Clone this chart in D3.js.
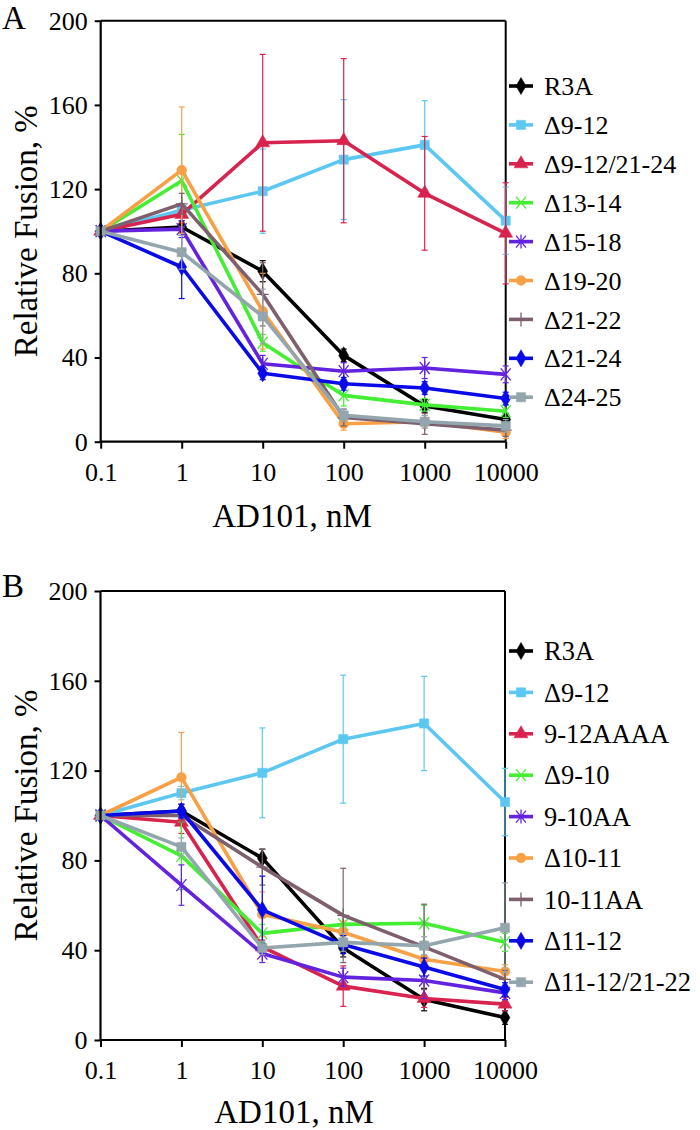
<!DOCTYPE html>
<html>
<head>
<meta charset="utf-8">
<script src="https://cdn.jsdelivr.net/npm/d3@7"></script>
<style>
  html, body { margin: 0; padding: 0; background: #fff; }
  svg { display: block; }
  text { font-family: "Liberation Serif", "Times New Roman", Times, serif; fill: #000; }
</style>
</head>
<body>
<svg id="chart" width="700" height="1130"></svg>
<script>
// ---------------- DATA ----------------
const concentrations = [0.1, 1, 10, 100, 1000, 10000];
const xTickLabels = ["0.1", "1", "10", "100", "1000", "10000"];
const yTicks = [0, 40, 80, 120, 160, 200];

const seriesA = ["R3A", "Δ9-12", "Δ9-12/21-24", "Δ13-14", "Δ15-18", "Δ19-20", "Δ21-22", "Δ21-24", "Δ24-25"];
const valuesA = [
  [100, 102, 81, 41, 17, 10.5],
  [100, 110, 119, 134, 141, 105],
  [100, 108, 142, 143, 118, 99],
  [100, 124, 47, 22, 17.5, 14.5],
  [100, 101, 37, 33.5, 35, 32],
  [100, 129, 62, 8.5, 9.5, 4.5],
  [100, 113, 70, 11.5, 8.5, 5.5],
  [100, 83, 32.5, 27.5, 25.5, 20.5],
  [100, 90, 59.5, 12.5, 9.5, 7.5]
];
const errorsA = [
  [0, 3, 5, 3, 3, 3],
  [0, 3, 20, 28.5, 21, 16],
  [0, 4, 42, 39, 27, 24],
  [0, 22, 4, 5, 3, 3],
  [0, 4, 4, 4, 5, 4],
  [0, 30, 18, 3, 3, 3],
  [0, 5, 15, 4, 5, 3],
  [0, 15, 3, 3, 3, 3],
  [0, 8, 13, 3, 3, 3]
];

const seriesB = ["R3A", "Δ9-12", "9-12AAAA", "Δ9-10", "9-10AA", "Δ10-11", "10-11AA", "Δ11-12", "Δ11-12/21-22"];
const valuesB = [
  [100, 102, 81, 41, 18, 10],
  [100, 110, 119, 134, 141, 106],
  [100, 97, 41.5, 24, 18.5, 16],
  [100, 82, 47.5, 51.5, 52, 43.5],
  [100, 69, 38.5, 28, 26.5, 21],
  [100, 117, 56, 48, 36, 30.5],
  [100, 100, 77, 55.5, 41.5, 27],
  [100, 102, 58, 42.5, 32.5, 22.5],
  [100, 86, 41, 43.5, 42, 50]
];
const errorsB = [
  [0, 3, 4, 4, 5, 3],
  [0, 3, 20, 28.5, 21, 15],
  [0, 5, 3, 9, 4, 3],
  [0, 15, 4, 4, 8, 4],
  [0, 9, 4, 4, 8, 3],
  [0, 20, 10, 5, 5, 3],
  [0, 3, 8, 21, 19, 4],
  [0, 3, 15, 4, 4, 3],
  [0, 4, 3, 4, 4, 20]
];

// ---------------- STYLES ----------------
const colors = ["#000000", "#5CC8F2", "#D8234E", "#44EE33", "#6222E0", "#F7A045", "#7D5F6E", "#0A0AE8", "#93A5AD"];
const markers = ["diamond", "square", "triangle", "x", "asterisk", "circle", "plus", "diamond", "square"];

const svg = d3.select("#chart");

function markerPath(type) {
  switch (type) {
    case "diamond": return d3.symbol(d3.symbolDiamond, 85)();
    case "square": return d3.symbol(d3.symbolSquare, 85)();
    case "triangle": return d3.symbol(d3.symbolTriangle, 85)();
    case "circle": return d3.symbol(d3.symbolCircle, 75)();
    case "x": return "M-5,-6L5,6M-5,6L5,-6";
    case "asterisk": return "M-5,-6L5,6M-5,6L5,-6M0,-7L0,7";
    case "plus": return "M0,-7L0,7M-6,0L6,0";
  }
}
function isStroke(type) { return type === "x" || type === "asterisk" || type === "plus"; }

function drawPanel(cfg) {
  const g = svg.append("g");
  const x = d3.scaleLog().domain([0.1, 10000]).range([cfg.left, cfg.right]);
  const y = d3.scaleLinear().domain([0, 200]).range([cfg.bottom, cfg.top]);

  // frame (top & right)
  g.append("line").attr("x1", cfg.left).attr("x2", cfg.right).attr("y1", cfg.top).attr("y2", cfg.top)
    .attr("stroke", "#000").attr("stroke-width", 2);
  g.append("line").attr("x1", cfg.right).attr("x2", cfg.right).attr("y1", cfg.top).attr("y2", cfg.bottom)
    .attr("stroke", "#000").attr("stroke-width", 2);

  // series
  cfg.values.forEach((vals, i) => {
    const col = colors[i];
    const sg = g.append("g");
    // error bars
    vals.forEach((v, j) => {
      const e = cfg.errors[i][j];
      if (!e) return;
      const cx = x(concentrations[j]);
      sg.append("line").attr("x1", cx).attr("x2", cx).attr("y1", y(v - e)).attr("y2", y(v + e))
        .attr("stroke", col).attr("stroke-width", 1.2);
      [v - e, v + e].forEach(t => {
        sg.append("line").attr("x1", cx - 3).attr("x2", cx + 3).attr("y1", y(t)).attr("y2", y(t))
          .attr("stroke", col).attr("stroke-width", 1.2);
      });
    });
    // line
    const line = d3.line().x((d, j) => x(concentrations[j])).y(d => y(d));
    sg.append("path").attr("d", line(vals)).attr("fill", "none").attr("stroke", col)
      .attr("stroke-width", 3.6).attr("stroke-linejoin", "round");
    // markers
    vals.forEach((v, j) => {
      const m = markers[i];
      sg.append("path").attr("d", markerPath(m))
        .attr("transform", `translate(${x(concentrations[j])},${y(v)})`)
        .attr("fill", isStroke(m) ? "none" : col)
        .attr("stroke", col).attr("stroke-width", isStroke(m) ? 1.3 : 0.5);
    });
  });

  // axes
  const yAxis = g.append("g").attr("transform", `translate(${cfg.left},0)`)
    .call(d3.axisLeft(y).tickValues(yTicks).tickSize(6).tickPadding(7).tickFormat(d3.format("d")));
  const xAxis = g.append("g").attr("transform", `translate(0,${cfg.bottom})`)
    .call(d3.axisBottom(x).tickValues(concentrations).tickSize(7).tickPadding(14)
      .tickFormat((d, i) => xTickLabels[i]));
  [yAxis, xAxis].forEach(a => {
    a.attr("font-family", null);
    a.select(".domain").attr("stroke", "#000").attr("stroke-width", 2.2);
    a.selectAll(".tick line").attr("stroke", "#000").attr("stroke-width", 2);
    a.selectAll(".tick text").style("font-family", '"Liberation Serif", "Times New Roman", Times, serif')
      .style("font-size", "26px").attr("fill", "#000");
  });
  xAxis.select(".domain").attr("d", `M${cfg.left},0H${cfg.right}`);
  yAxis.select(".domain").attr("d", `M0,${cfg.bottom}V${cfg.top}`);

  // axis titles
  g.append("text").attr("x", cfg.xTitleX).attr("y", cfg.xTitleY).attr("text-anchor", "middle")
    .style("font-size", "33px").text("AD101, nM");
  g.append("text").attr("transform", `translate(37,${(cfg.top + cfg.bottom) / 2}) rotate(-90)`)
    .attr("text-anchor", "middle").style("font-size", "33px").text("Relative Fusion, %");
  // panel label
  g.append("text").attr("x", 2).attr("y", cfg.labelY).style("font-size", "33px").text(cfg.label);

  // legend
  const lg = g.append("g");
  cfg.names.forEach((name, i) => {
    const ly = cfg.legTop + i * cfg.legStep;
    lg.append("line").attr("x1", 509).attr("x2", 533).attr("y1", ly).attr("y2", ly)
      .attr("stroke", colors[i]).attr("stroke-width", 3.6);
    const m = markers[i];
    lg.append("path").attr("d", markerPath(m)).attr("transform", `translate(521,${ly})`)
      .attr("fill", isStroke(m) ? "none" : colors[i])
      .attr("stroke", colors[i]).attr("stroke-width", isStroke(m) ? 1.3 : 0.5);
    lg.append("text").attr("x", 544).attr("y", ly).attr("dy", "0.35em")
      .style("font-size", cfg.legFont + "px").text(name);
  });
}

drawPanel({
  left: 100.7, right: 505.7, top: 20.7, bottom: 441.7,
  values: valuesA, errors: errorsA, names: seriesA,
  xTitleX: 292, xTitleY: 527, labelY: 29, label: "A",
  legTop: 86, legStep: 38.9, legFont: 26
});
drawPanel({
  left: 100.5, right: 505, top: 591, bottom: 1040,
  values: valuesB, errors: errorsB, names: seriesB,
  xTitleX: 294, xTitleY: 1123, labelY: 597, label: "B",
  legTop: 651, legStep: 41.4, legFont: 26.5
});
</script>
</body>
</html>
